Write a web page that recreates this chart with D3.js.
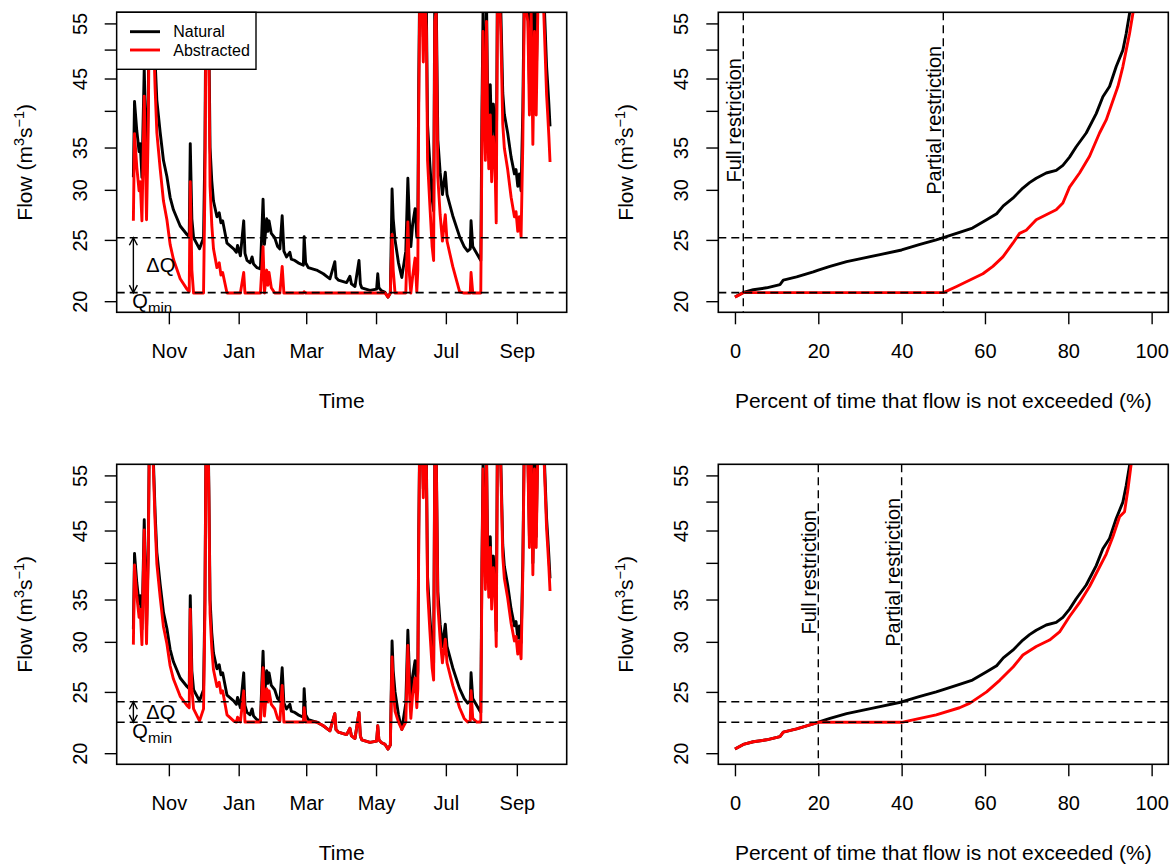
<!DOCTYPE html>
<html>
<head>
<meta charset="utf-8">
<script src="https://cdn.jsdelivr.net/npm/d3@7/dist/d3.min.js"></script>
<style>
html,body{margin:0;padding:0;background:#fff;}
svg{display:block;}
</style>
</head>
<body>
<svg id="chart" width="1176" height="866"></svg>
<script>
// ---------------- data ----------------
const seriesNames = ["Natural", "Abstracted"];
const seriesColors = ["#000000", "#ff0000"];
const waterYearStart = "2001-10-01";
const waterYearEnd = "2002-09-30";
const monthTickDates = ["2001-11-01","2002-01-01","2002-03-01","2002-05-01","2002-07-01","2002-09-01"];
const monthTickLabels = ["Nov","Jan","Mar","May","Jul","Sep"];
const flowTicks = [20,25,30,35,40,45,50,55];
const flowTickLabels = ["20","25","30","35","","45","","55"];
const percentTicks = [0,20,40,60,80,100];
const xTitles = ["Time", "Percent of time that flow is not exceeded (%)"];

// days since start of the water year (1 Oct)
const dayOffset = [0,1,3,5,6,7.5,9.5,11.5,13,14,
16,17.5,19,20.5,23.4,26.3,29.3,32.1,35,40.9,
46.8,48.8,49.7,51.1,52.6,57.8,61.3,62.5,63.5,65,
66,67,68.5,70,73,75,76.5,78,81.8,87.6,
90,91,93.5,96.4,97.5,99.3,102,103.7,105,108,
111,113.3,114.5,116.5,117.5,118.5,120.5,123.5,126,128,
130,131.5,133.8,136.7,138,141,144,148.5,149.2,150.5,
152.8,160,165.9,171.7,176,177,179,186.3,189.2,190.5,
193.6,197.1,198.3,199.5,206.7,212.5,213.5,214.5,216.5,219.9,
222.5,224.5,226,227,228.6,231.6,234.5,238,239.8,241.2,
242.4,244,246.1,247.6,248.5,249.3,250.3,252,253.3,254.5,
256,257,259,261,262.3,263.3,264.5,266,268,270,
271,272.5,274,279,285,289,292,294.3,295,296.5,
300,303.5,304.5,305.5,306.5,307.5,308.5,309.5,310.5,311.8,
313,314.5,316,317,318,319.5,321,322.7,324.1,327,
330,332.9,334.3,335.8,337.2,338.7,340.2,341.6,344.6,346,
347.5,349,350.4,351.9,353.5,356,358.5,361,362,363,
364];

const naturalFlow = [31.4,41.4,37.2,34.5,35.5,31.4,46.8,31.5,42,65,
72,58,48,41.6,37,33.4,31.5,29.2,27.9,26.3,
25.5,25.3,35.5,27,25.2,24.2,25.2,35,65,70,
52,35,31,28.8,27.2,27.6,26.6,26.8,24.7,24.2,
23.9,24.5,23.6,26.8,23.8,23.2,23.0,23.5,22.9,22.6,
22.5,29.0,24.6,27.0,25.8,26.8,25.6,25.2,24.4,24.2,
27.3,24.0,23.5,23.9,23.3,23.2,23.0,22.8,25.3,23.0,
22.6,22.4,22.1,21.7,23.1,21.8,21.6,21.4,21.9,21.3,
21.1,23.2,21.3,21.0,20.8,20.9,22.1,21.0,20.8,20.65,
20.3,20.6,30.1,27,25.0,23.0,21.8,24,31.3,26.6,
24.4,26.5,28.0,25.3,27,45,68,65,52.4,66,
58,38,33,29,27.8,60,62,36,32,29.5,
30.5,32.0,29.5,27.3,25.3,24.4,24.0,24.2,26.8,24.4,
23.8,23.2,40,58,44,38,60,42,37,44,
35.5,41,37,31.2,62,68,58,42.7,39.5,36.9,
33.8,31.8,32.3,30.4,31.8,29.9,40,65,60,44,
62,40,58,44,65,70,62,47,44,41,
37.8];

const abstractedFlowA = [26.8,36.8,32.6,29.9,30.9,26.8,42.2,26.9,37.4,60.4,
67.4,53.4,43.4,37.0,32.4,28.8,26.9,24.6,23.3,21.7,
20.9,20.7,30.9,22.4,20.6,20.6,20.6,30.4,60.4,65.4,
47.4,30.4,26.4,24.2,22.6,23.0,22.0,22.2,20.6,20.6,
20.6,20.6,20.6,22.2,20.6,20.6,20.6,20.6,20.6,20.6,
20.6,24.4,20.6,22.4,21.2,22.2,21.0,20.6,20.6,20.6,
22.7,20.6,20.6,20.6,20.6,20.6,20.6,20.6,20.7,20.6,
20.6,20.6,20.6,20.6,20.6,20.6,20.6,20.6,20.6,20.6,
20.6,20.6,20.6,20.6,20.6,20.6,20.6,20.6,20.6,20.6,
20.3,20.6,25.5,22.4,20.6,20.6,20.6,20.6,26.7,22.0,
20.6,21.9,23.4,20.7,22.4,40.4,63.4,60.4,47.8,61.4,
53.4,33.4,28.4,24.4,23.2,55.4,57.4,31.4,27.4,24.9,
25.9,27.4,24.9,22.7,20.7,20.6,20.6,20.6,22.2,20.6,
20.6,20.6,35.4,53.4,39.4,33.4,55.4,37.4,32.4,39.4,
30.9,36.4,32.4,26.6,57.4,63.4,53.4,38.1,34.9,32.3,
29.2,27.2,27.7,25.8,27.2,25.3,35.4,60.4,55.4,39.4,
57.4,35.4,53.4,39.4,60.4,65.4,57.4,42.4,39.4,36.4,
33.2];

const abstractedFlowB = [29.7,39.7,35.5,32.8,33.8,29.7,45.1,29.8,40.3,63.3,
70.3,56.3,46.3,39.9,35.3,31.7,29.8,27.5,26.2,24.6,
23.8,23.6,33.8,25.3,23.5,22.5,23.5,33.3,63.3,68.3,
50.3,33.3,29.3,27.1,25.5,25.9,24.9,25.1,23.0,22.5,
22.4,22.8,22.4,25.1,22.4,22.4,22.4,22.4,22.4,22.4,
22.4,27.3,22.9,25.3,24.1,25.1,23.9,23.5,22.7,22.5,
25.6,22.4,22.4,22.4,22.4,22.4,22.4,22.4,23.6,22.4,
22.4,22.4,22.1,21.7,23.1,21.8,21.6,21.4,21.9,21.3,
21.1,23.2,21.3,21.0,20.8,20.9,22.1,21.0,20.8,20.65,
20.3,20.6,28.4,25.3,23.3,22.4,21.8,22.4,29.6,24.9,
22.7,24.8,26.3,23.6,25.3,43.3,66.3,63.3,50.7,64.3,
56.3,36.3,31.3,27.3,26.1,58.3,60.3,34.3,30.3,27.8,
28.8,30.3,27.8,25.6,23.6,22.7,22.4,22.5,25.1,22.7,
22.4,22.4,38.3,56.3,42.3,36.3,58.3,40.3,35.3,42.3,
33.8,39.3,35.3,29.5,60.3,66.3,56.3,41.0,37.8,35.2,
32.1,30.1,30.6,28.7,30.1,28.2,38.3,63.3,58.3,42.3,
60.3,38.3,56.3,42.3,63.3,68.3,60.3,45.3,42.3,39.3,
36.1];

// thresholds (scenario A = top row, scenario B = bottom row)
const qMin = [20.63, 22.38];
const qMinPlusDeltaQ = [25.2, 24.12];
const fullRestrictionPct = [2, 20];
const partialRestrictionPct = [50, 40];
const restrictionLabels = ["Full restriction", "Partial restriction"];

// flow duration curves
const fdcNaturalPct = [0,2,4.4,7.6,10.8,11.6,14.8,18.8,20,22.8,26.8,30.8,34.8,40,44.4,48.3,50,53.9,57,60.4,62.8,64.4,66.7,69.1,70.7,72.3,74.7,77.1,78.7,80.3,81.9,84.3,86.7,88.3,89.9,91.5,93.1,93.9,94.7,96];
const fdcNaturalFlow = [20.3,20.65,20.85,21.0,21.25,21.6,21.85,22.25,22.4,22.7,23.1,23.4,23.7,24.1,24.6,25.0,25.2,25.7,26.1,26.9,27.5,28.3,29.1,30.2,30.8,31.3,31.9,32.2,32.8,33.8,35.1,36.9,39.6,42.1,43.7,47.0,49.9,53.0,57.0,64];
const fdcAPct = [0,2,50,53.2,56.4,59.5,61.9,64.3,66.7,68.3,69.9,72.3,74.7,77.1,78.7,80.3,82.7,85.1,87.5,89.1,90.7,91.9,93.1,93.9,94.7,95.5,96.5];
const fdcAFlow = [20.3,20.63,20.63,21.1,21.6,22.1,22.7,23.5,24.7,25.6,25.9,26.9,27.4,27.9,28.6,30.3,31.9,33.9,36.9,38.7,41.5,43.7,47.0,49.9,53.0,57.0,64];
const fdcBPct = [0,2,4.4,7.6,10.8,11.6,14.8,18.8,20,40,44.4,48.3,53.9,56.4,60.4,63.6,66.8,69.1,72.3,75.5,77.9,80.3,82.7,85.1,87.5,89.1,90.7,92.3,93.5,94.3,95.1,96.5];
const fdcBFlow = [20.3,20.65,20.85,21.0,21.25,21.6,21.85,22.25,22.38,22.38,22.7,23.0,23.6,24.0,25.0,26.1,27.4,28.6,29.5,30.2,31.1,32.9,34.6,36.7,39.4,41.3,44.0,47.3,48.2,52.2,57.4,65];

// ---------------- layout ----------------
const FONT = '"Liberation Sans", Arial, Helvetica, sans-serif';
const boxX = [[116.7, 566.7], [718.3, 1168.3]];
const boxY = [[12.3, 312.3], [464.3, 764.3]];

const svg = d3.select("#chart");
svg.append("rect").attr("width", 1176).attr("height", 866).attr("fill", "#fff");

const parse = d3.utcParse("%Y-%m-%d");
const t0 = parse(waterYearStart), t1 = parse(waterYearEnd);
const dates = dayOffset.map(d => new Date(t0.getTime() + d * 86400000));
const tPad = 0.04 * (t1 - t0);
const xTime = d3.scaleUtc().domain([new Date(+t0 - tPad), new Date(+t1 + tPad)]).range(boxX[0]);
const xPct = d3.scaleLinear().domain([-4, 104]).range(boxX[1]);
const logPad = 0.04 * Math.log(55 / 20);
const yDomain = [20 * Math.exp(-logPad), 55 * Math.exp(logPad)];

const abstractedRows = [abstractedFlowA, abstractedFlowB];
const fdcRows = [[fdcAPct, fdcAFlow], [fdcBPct, fdcBFlow]];

function addClip(id, bx, by) {
  svg.append("clipPath").attr("id", id).append("rect")
    .attr("x", bx[0]).attr("y", by[0]).attr("width", bx[1] - bx[0]).attr("height", by[1] - by[0]);
}

function dashedH(bx, yv) {
  return svg.append("line").attr("x1", bx[0]).attr("x2", bx[1]).attr("y1", yv).attr("y2", yv)
    .attr("stroke", "#000").attr("stroke-width", 1.6).attr("stroke-dasharray", "8,5");
}

function frameAndAxes(x, xTickVals, xTickFmt, y, bx, by, xTitle) {
  // y axis
  const gy = svg.append("g").attr("transform", `translate(${bx[0]},0)`)
    .call(d3.axisLeft(y).tickValues(flowTicks).tickFormat((d, i) => flowTickLabels[i]).tickSize(12).tickSizeOuter(0));
  gy.select(".domain").remove();
  gy.attr("font-family", FONT).attr("font-size", 20);
  gy.selectAll(".tick line").attr("stroke", "#000").attr("stroke-width", 1.4);
  gy.selectAll(".tick text").attr("x", 0).attr("dy", 0).attr("fill", "#000")
    .attr("text-anchor", "middle").attr("transform", "translate(-30,0) rotate(-90)");
  // x axis
  const gx = svg.append("g").attr("transform", `translate(0,${by[1]})`)
    .call(d3.axisBottom(x).tickValues(xTickVals).tickFormat(xTickFmt).tickSize(12).tickSizeOuter(0));
  gx.select(".domain").remove();
  gx.attr("font-family", FONT).attr("font-size", 20);
  gx.selectAll(".tick line").attr("stroke", "#000").attr("stroke-width", 1.4);
  gx.selectAll(".tick text").attr("y", 46).attr("dy", 0).attr("fill", "#000");
  // box
  svg.append("rect").attr("x", bx[0]).attr("y", by[0]).attr("width", bx[1] - bx[0]).attr("height", by[1] - by[0])
    .attr("fill", "none").attr("stroke", "#000").attr("stroke-width", 1.6);
  // x title
  svg.append("text").attr("x", (bx[0] + bx[1]) / 2).attr("y", by[1] + 96)
    .attr("text-anchor", "middle").attr("font-family", FONT).attr("font-size", 21).attr("fill", "#000").text(xTitle);
  // y title
  const cy = (by[0] + by[1]) / 2;
  const t = svg.append("text").attr("transform", `translate(${bx[0] - 85},${cy}) rotate(-90)`)
    .attr("text-anchor", "middle").attr("font-family", FONT).attr("font-size", 21).attr("fill", "#000");
  t.append("tspan").text("Flow (m");
  t.append("tspan").attr("font-size", 14.5).attr("dy", -8).text("3");
  t.append("tspan").attr("font-size", 21).attr("dy", 8).text("s");
  t.append("tspan").attr("font-size", 14.5).attr("dy", -8).text("\u22121");
  t.append("tspan").attr("font-size", 21).attr("dy", 8).text(")");
}

for (let r = 0; r < 2; r++) {
  const by = boxY[r];
  const y = d3.scaleLog().domain(yDomain).range([by[1], by[0]]);

  // ---------- left: time series ----------
  const bxL = boxX[0];
  const clipL = "clipL" + r;
  addClip(clipL, bxL, by);
  const lineT = d3.line().x((d, i) => xTime(dates[i])).y(d => y(d));
  [naturalFlow, abstractedRows[r]].forEach((arr, k) => {
    svg.append("path").attr("d", lineT(arr)).attr("clip-path", `url(#${clipL})`)
      .attr("fill", "none").attr("stroke", seriesColors[k]).attr("stroke-width", 2.9)
      .attr("stroke-linejoin", "round");
  });
  dashedH(bxL, y(qMinPlusDeltaQ[r]));
  dashedH(bxL, y(qMin[r]));

  // delta Q arrow
  const ax = xTime(t0);
  const ya = y(qMinPlusDeltaQ[r]), yb = y(qMin[r]);
  svg.append("line").attr("x1", ax).attr("x2", ax).attr("y1", ya).attr("y2", yb)
    .attr("stroke", "#000").attr("stroke-width", 1.4);
  svg.append("path").attr("d", `M${ax - 4},${ya + 7.5}L${ax},${ya}L${ax + 4},${ya + 7.5}M${ax - 4},${yb - 7.5}L${ax},${yb}L${ax + 4},${yb - 7.5}`)
    .attr("fill", "none").attr("stroke", "#000").attr("stroke-width", 1.4);
  svg.append("text").attr("x", ax + 13).attr("y", (ya + yb) / 2 + 7)
    .attr("font-family", FONT).attr("font-size", 20).attr("fill", "#000").text("\u0394Q");
  const qt = svg.append("text").attr("x", ax - 1).attr("y", yb + 15.5)
    .attr("font-family", FONT).attr("font-size", 20).attr("fill", "#000");
  qt.append("tspan").text("Q");
  qt.append("tspan").attr("font-size", 15).attr("dy", 5).text("min");

  frameAndAxes(xTime, monthTickDates.map(parse), (d, i) => monthTickLabels[i], y, bxL, by, xTitles[0]);

  // legend (top-left panel only)
  if (r === 0) {
    const lg = svg.append("g");
    lg.append("rect").attr("x", bxL[0]).attr("y", by[0]).attr("width", 139.3).attr("height", 57)
      .attr("fill", "#fff").attr("stroke", "#000").attr("stroke-width", 1.4);
    seriesNames.forEach((name, k) => {
      const ly = by[0] + 19.4 + k * 18.3;
      lg.append("line").attr("x1", bxL[0] + 13.3).attr("x2", bxL[0] + 43.3).attr("y1", ly).attr("y2", ly)
        .attr("stroke", seriesColors[k]).attr("stroke-width", 2.9);
      lg.append("text").attr("x", bxL[0] + 56.6).attr("y", ly).attr("dy", "0.35em")
        .attr("font-family", FONT).attr("font-size", 16).attr("fill", "#000").text(name);
    });
  }

  // ---------- right: flow duration curves ----------
  const bxR = boxX[1];
  const clipR = "clipR" + r;
  addClip(clipR, bxR, by);
  const [pA, fA] = fdcRows[r];
  const lineN = d3.line().x((d, i) => xPct(fdcNaturalPct[i])).y(d => y(d));
  const lineA = d3.line().x((d, i) => xPct(pA[i])).y(d => y(d));
  svg.append("path").attr("d", lineN(fdcNaturalFlow)).attr("clip-path", `url(#${clipR})`)
    .attr("fill", "none").attr("stroke", seriesColors[0]).attr("stroke-width", 2.9).attr("stroke-linejoin", "round");
  svg.append("path").attr("d", lineA(fA)).attr("clip-path", `url(#${clipR})`)
    .attr("fill", "none").attr("stroke", seriesColors[1]).attr("stroke-width", 2.9).attr("stroke-linejoin", "round");
  dashedH(bxR, y(qMinPlusDeltaQ[r]));
  dashedH(bxR, y(qMin[r]));
  [fullRestrictionPct[r], partialRestrictionPct[r]].forEach((p, k) => {
    const xv = xPct(p);
    svg.append("line").attr("x1", xv).attr("x2", xv).attr("y1", by[0]).attr("y2", by[1])
      .attr("stroke", "#000").attr("stroke-width", 1.4).attr("stroke-dasharray", "8,5");
    svg.append("text").attr("transform", `translate(${xv - 2},${by[0] + 108}) rotate(-90)`)
      .attr("text-anchor", "middle").attr("font-family", FONT).attr("font-size", 20).attr("fill", "#000")
      .text(restrictionLabels[k]);
  });
  frameAndAxes(xPct, percentTicks, d => d, y, bxR, by, xTitles[1]);
}
</script>
</body>
</html>
